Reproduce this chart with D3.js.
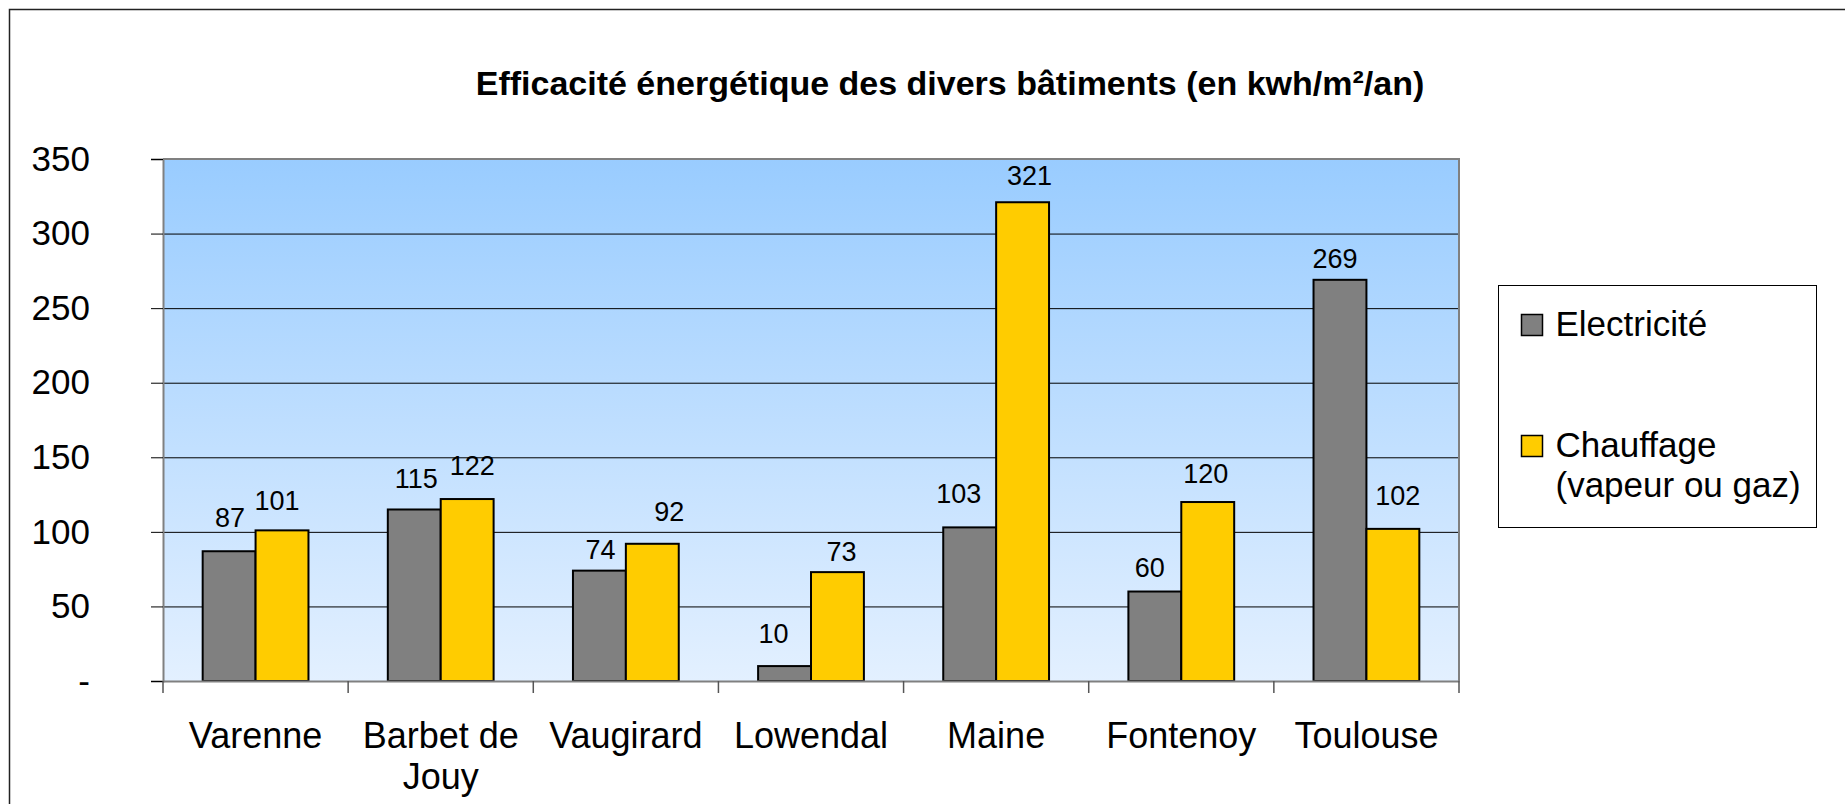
<!DOCTYPE html>
<html>
<head>
<meta charset="utf-8">
<script src="https://cdn.jsdelivr.net/npm/d3@7"></script>
<style>
  body { margin: 0; background: #fff; }
  svg { display: block; font-family: Arial, "Liberation Sans", sans-serif; }
</style>
</head>
<body>
<svg id="chart" width="1845" height="804"></svg>
<script>
// data
var categories = ["Varenne", "Barbet de Jouy", "Vaugirard", "Lowendal", "Maine", "Fontenoy", "Toulouse"];
var seriesNames = ["Electricité", "Chauffage (vapeur ou gaz)"];
var electricite = [87, 115, 74, 10, 103, 60, 269];
var chauffage = [101, 122, 92, 73, 321, 120, 102];
var yTicks = [0, 50, 100, 150, 200, 250, 300, 350];
var colors = ["#808080", "#FFCC00"];

// the data labels were moved by hand in the original, keep those nudges apart
var labelGap = [[24, 21, 12, 23, 24, 15, 12], [20, 24, 23, 11, 17, 19, 24]];
var labelDx = [[1, 2, 1, -11, -11, -5, -5], [-5, 5, 17, 4, 7, -2, 5]];

var values = [electricite, chauffage];
var rows = categories.map(function (c, i) {
  return { cat: c, vals: values.map(function (s) { return s[i]; }) };
});

var svg = d3.select("#chart");
var plot = { left: 163, right: 1459, top: 159, bottom: 681 };

// outer frame (runs past the window on right and bottom)
svg.append("rect")
  .attr("x", 9.5).attr("y", 9.5)
  .attr("width", 1900).attr("height", 900)
  .attr("fill", "none").attr("stroke", "#222").attr("stroke-width", 1.5);

svg.append("text")
  .attr("x", 950).attr("y", 95)
  .attr("text-anchor", "middle")
  .attr("font-size", 34).attr("font-weight", "bold")
  .text("Efficacité énergétique des divers bâtiments (en kwh/m²/an)");

var x0 = d3.scaleBand().domain(categories).range([plot.left, plot.right]);
var x1 = d3.scaleBand().domain(seriesNames).range([0, x0.step()]).paddingOuter(0.75);
var y = d3.scaleLinear().domain([0, 350]).range([plot.bottom, plot.top]);

// background gradient
var grad = svg.append("defs").append("linearGradient")
  .attr("id", "bg").attr("x1", 0).attr("y1", 0).attr("x2", 0).attr("y2", 1);
grad.append("stop").attr("offset", "0%").attr("stop-color", "#99CCFF");
grad.append("stop").attr("offset", "100%").attr("stop-color", "#E3F0FF");

svg.append("rect")
  .attr("x", plot.left).attr("y", plot.top)
  .attr("width", plot.right - plot.left).attr("height", plot.bottom - plot.top)
  .attr("fill", "url(#bg)");

// gridlines
var grid = svg.append("g")
  .attr("transform", "translate(" + plot.left + ",0)")
  .call(d3.axisLeft(y).tickValues(yTicks.slice(1, -1)).tickSize(-(plot.right - plot.left)).tickFormat(""));
grid.select(".domain").remove();
grid.selectAll("line").attr("stroke", "#000").attr("stroke-width", 1);

// plot border top / right
svg.append("path")
  .attr("d", "M" + plot.left + "," + plot.top + "H" + plot.right + "V" + plot.bottom)
  .attr("fill", "none").attr("stroke", "#808080").attr("stroke-width", 2);

// bars
var groups = svg.append("g").selectAll("g")
  .data(rows)
  .enter()
  .append("g")
  .attr("transform", function (d) { return "translate(" + x0(d.cat) + ",0)"; });

groups.selectAll("rect")
  .data(function (d) { return d.vals.map(function (v, k) { return { k: k, v: v }; }); })
  .enter()
  .append("rect")
  .attr("x", function (d) { return x1(seriesNames[d.k]); })
  .attr("y", function (d) { return y(d.v); })
  .attr("width", x1.bandwidth())
  .attr("height", function (d) { return y(0) - y(d.v); })
  .attr("fill", function (d) { return colors[d.k]; })
  .attr("stroke", "#000").attr("stroke-width", 2);

// data labels
groups.each(function (d, i) {
  d3.select(this).selectAll("text.val")
    .data(d.vals)
    .enter()
    .append("text")
    .attr("class", "val")
    .attr("x", function (v, k) { return x1(seriesNames[k]) + x1.bandwidth() / 2 + labelDx[k][i]; })
    .attr("y", function (v, k) { return y(v) - labelGap[k][i]; })
    .attr("text-anchor", "middle")
    .attr("font-size", 27)
    .text(function (v) { return v; });
});

// y axis
var yAxis = svg.append("g")
  .attr("transform", "translate(" + plot.left + ",0)")
  .call(d3.axisLeft(y).tickValues(yTicks).tickSize(12).tickPadding(61)
    .tickFormat(function (d) { return d === 0 ? "-" : d; }));
yAxis.select(".domain").attr("stroke", "#808080").attr("stroke-width", 2);
yAxis.selectAll("line").attr("stroke", "#000");
yAxis.selectAll("text").attr("font-size", 35).attr("fill", "#000").attr("font-family", null);

// x axis
var xAxis = svg.append("g")
  .attr("transform", "translate(0," + plot.bottom + ")")
  .call(d3.axisBottom(x0).tickSize(0).tickPadding(41));
xAxis.select(".domain").attr("stroke", "#808080").attr("stroke-width", 2);
xAxis.selectAll("text")
  .attr("font-size", 36).attr("fill", "#000").attr("font-family", null)
  .call(wrap, x0.step() - 8);

// category boundary ticks
xAxis.selectAll("line.sep")
  .data(d3.range(categories.length + 1))
  .enter()
  .append("line")
  .attr("class", "sep")
  .attr("x1", function (k) { return plot.left + k * x0.step(); })
  .attr("x2", function (k) { return plot.left + k * x0.step(); })
  .attr("y1", 0).attr("y2", 12)
  .attr("stroke", "#555").attr("stroke-width", 1.5);

function wrap(texts, width) {
  texts.each(function () {
    var t = d3.select(this);
    var words = t.text().split(" ");
    var yy = t.attr("y");
    var line = [];
    var lineNo = 0;
    var tspan = t.text(null).append("tspan").attr("x", 0).attr("y", yy).attr("dy", "0.71em");
    words.forEach(function (w) {
      line.push(w);
      tspan.text(line.join(" "));
      if (tspan.node().getComputedTextLength() > width && line.length > 1) {
        line.pop();
        tspan.text(line.join(" "));
        line = [w];
        lineNo++;
        tspan = t.append("tspan").attr("x", 0).attr("y", yy)
          .attr("dy", (lineNo * 1.16 + 0.71) + "em").text(w);
      }
    });
  });
}

// legend
var legend = svg.append("g").attr("transform", "translate(1498.5,285.5)");
legend.append("rect")
  .attr("width", 318).attr("height", 242)
  .attr("fill", "#fff").attr("stroke", "#000").attr("stroke-width", 1);

var legendLines = [["Electricité"], ["Chauffage", "(vapeur ou gaz)"]];
var legendBase = [50, 171];
legendLines.forEach(function (lines, k) {
  legend.append("rect")
    .attr("x", 23).attr("y", legendBase[k] - 21)
    .attr("width", 21).attr("height", 21)
    .attr("fill", colors[k]).attr("stroke", "#000").attr("stroke-width", 1.5);
  var t = legend.append("text").attr("font-size", 35);
  lines.forEach(function (s, j) {
    t.append("tspan").attr("x", 57).attr("y", legendBase[k] + j * 40).text(s);
  });
});
</script>
</body>
</html>
